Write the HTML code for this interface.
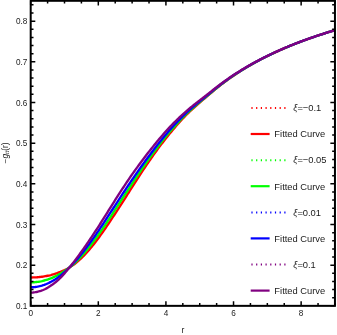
<!DOCTYPE html>
<html><head><meta charset="utf-8"><title>plot</title>
<style>
html,body{margin:0;padding:0;background:#fff;}
svg{display:block;}
text{font-family:"Liberation Sans",sans-serif;fill:#1a1a1a;}
.tl{font-size:8.20px;}
.lg{font-size:9.35px;}
</style></head>
<body>
<svg width="337" height="335" viewBox="0 0 337 335">
<rect x="0" y="0" width="337" height="335" fill="#ffffff"/>
<defs><clipPath id="cp"><rect x="30.7" y="0.8" width="304.25" height="305.05"/></clipPath></defs>
<g clip-path="url(#cp)" fill="none" stroke-linejoin="round" stroke-linecap="butt">
<polyline points="30.70,277.46 31.83,277.46 32.95,277.44 34.08,277.42 35.21,277.38 36.33,277.32 37.46,277.25 38.59,277.16 39.71,277.04 40.84,276.90 41.97,276.73 43.10,276.54 44.22,276.36 45.35,276.17 46.48,275.98 47.60,275.77 48.73,275.55 49.86,275.30 50.98,275.02 52.11,274.71 53.24,274.38 54.36,274.03 55.49,273.66 56.62,273.27 57.74,272.86 58.87,272.42 60.00,271.98 61.12,271.53 62.25,271.07 63.38,270.60 64.51,270.11 65.63,269.59 66.76,269.03 67.89,268.43 69.01,267.78 70.14,267.08 71.27,266.34 72.39,265.58 73.52,264.78 74.65,263.94 75.77,263.07 76.90,262.15 78.03,261.20 79.15,260.21 80.28,259.17 81.41,258.09 82.54,256.98 83.66,255.83 84.79,254.65 85.92,253.45 87.04,252.21 88.17,250.94 89.30,249.65 90.42,248.32 91.55,246.96 92.68,245.57 93.80,244.16 94.93,242.71 96.06,241.24 97.18,239.75 98.31,238.23 99.44,236.70 100.56,235.14 101.69,233.57 102.82,231.97 103.95,230.36 105.07,228.73 106.20,227.08 107.33,225.42 108.45,223.75 109.58,222.06 110.71,220.37 111.83,218.67 112.96,216.97 114.09,215.26 115.21,213.54 116.34,211.81 117.47,210.07 118.59,208.32 119.72,206.57 120.85,204.81 121.98,203.05 123.10,201.29 124.23,199.52 125.36,197.76 126.48,196.00 127.61,194.24 128.74,192.49 129.86,190.74 130.99,188.97 132.12,187.20 133.24,185.42 134.37,183.65 135.50,181.87 136.62,180.10 137.75,178.33 138.88,176.58 140.00,174.84 141.13,173.12 142.26,171.41 143.39,169.71 144.51,168.01 145.64,166.33 146.77,164.66 147.89,163.00 149.02,161.35 150.15,159.71 151.27,158.09 152.40,156.48 153.53,154.88 154.65,153.30 155.78,151.74 156.91,150.19 158.03,148.65 159.16,147.14 160.29,145.63 161.41,144.15 162.54,142.67 163.67,141.22 164.80,139.77 165.92,138.34 167.05,136.93 168.18,135.52 169.30,134.13 170.43,132.75 171.56,131.39 172.68,130.03 173.81,128.70 174.94,127.37 176.06,126.06 177.19,124.77 178.32,123.49 179.44,122.23 180.57,120.99 181.70,119.76 182.82,118.55 183.95,117.36 185.08,116.20 186.21,115.05 187.33,113.92 188.46,112.81 189.59,111.72 190.71,110.65 191.84,109.59 192.97,108.55 194.09,107.53 195.22,106.52 196.35,105.53 197.47,104.54 198.60,103.56 199.73,102.59 200.85,101.62 201.98,100.66 203.11,99.70 204.24,98.74 205.36,97.78 206.49,96.83 207.62,95.88 208.74,94.92 209.87,93.97 211.00,93.02 212.12,92.06 213.25,91.11 214.38,90.15 215.50,89.22 216.63,88.29 217.76,87.37 218.88,86.47 220.01,85.58 221.14,84.69 222.26,83.82 223.39,82.97 224.52,82.12 225.65,81.28 226.77,80.45 227.90,79.63 229.03,78.83 230.15,78.03 231.28,77.24 232.41,76.46 233.53,75.69 234.66,74.93 235.79,74.18 236.91,73.44 238.04,72.71 239.17,71.98 240.29,71.26 241.42,70.55 242.55,69.85 243.67,69.15 244.80,68.47 245.93,67.78 247.06,67.11 248.18,66.45 249.31,65.79 250.44,65.14 251.56,64.49 252.69,63.85 253.82,63.22 254.94,62.59 256.07,61.98 257.20,61.36 258.32,60.76 259.45,60.16 260.58,59.56 261.70,58.98 262.83,58.39 263.96,57.82 265.09,57.25 266.21,56.68 267.34,56.12 268.47,55.57 269.59,55.02 270.72,54.47 271.85,53.94 272.97,53.40 274.10,52.87 275.23,52.35 276.35,51.83 277.48,51.32 278.61,50.81 279.73,50.30 280.86,49.80 281.99,49.31 283.11,48.81 284.24,48.33 285.37,47.84 286.50,47.37 287.62,46.89 288.75,46.42 289.88,45.96 291.00,45.49 292.13,45.04 293.26,44.58 294.38,44.13 295.51,43.68 296.64,43.24 297.76,42.80 298.89,42.37 300.02,41.94 301.14,41.51 302.27,41.09 303.40,40.66 304.52,40.25 305.65,39.83 306.78,39.42 307.91,39.02 309.03,38.61 310.16,38.21 311.29,37.82 312.41,37.42 313.54,37.03 314.67,36.65 315.79,36.26 316.92,35.88 318.05,35.50 319.17,35.13 320.30,34.75 321.43,34.39 322.55,34.02 323.68,33.66 324.81,33.30 325.94,32.94 327.06,32.58 328.19,32.23 329.32,31.88 330.44,31.54 331.57,31.19 332.70,30.85 333.82,30.51 334.95,30.18" stroke="#ff0000" stroke-width="2.35"/>
<polyline points="30.70,282.38 31.83,282.35 32.95,282.31 34.08,282.24 35.21,282.15 36.33,282.03 37.46,281.89 38.59,281.73 39.71,281.54 40.84,281.32 41.97,281.07 43.10,280.79 44.22,280.50 45.35,280.19 46.48,279.86 47.60,279.51 48.73,279.13 49.86,278.73 50.98,278.29 52.11,277.83 53.24,277.34 54.36,276.83 55.49,276.29 56.62,275.72 57.74,275.13 58.87,274.51 60.00,273.87 61.12,273.20 62.25,272.52 63.38,271.82 64.51,271.09 65.63,270.33 66.76,269.54 67.89,268.71 69.01,267.85 70.14,266.95 71.27,266.01 72.39,265.05 73.52,264.06 74.65,263.04 75.77,261.98 76.90,260.89 78.03,259.77 79.15,258.62 80.28,257.43 81.41,256.21 82.54,254.97 83.66,253.69 84.79,252.39 85.92,251.07 87.04,249.72 88.17,248.34 89.30,246.94 90.42,245.51 91.55,244.06 92.68,242.59 93.80,241.09 94.93,239.57 96.06,238.03 97.18,236.47 98.31,234.89 99.44,233.30 100.56,231.68 101.69,230.05 102.82,228.40 103.95,226.74 105.07,225.07 106.20,223.39 107.33,221.69 108.45,219.99 109.58,218.28 110.71,216.57 111.83,214.85 112.96,213.12 114.09,211.39 115.21,209.66 116.34,207.92 117.47,206.18 118.59,204.44 119.72,202.69 120.85,200.95 121.98,199.20 123.10,197.46 124.23,195.72 125.36,193.98 126.48,192.25 127.61,190.52 128.74,188.80 129.86,187.08 130.99,185.36 132.12,183.64 133.24,181.92 134.37,180.20 135.50,178.49 136.62,176.79 137.75,175.09 138.88,173.40 140.00,171.73 141.13,170.06 142.26,168.41 143.39,166.77 144.51,165.14 145.64,163.51 146.77,161.90 147.89,160.30 149.02,158.71 150.15,157.14 151.27,155.57 152.40,154.02 153.53,152.48 154.65,150.95 155.78,149.43 156.91,147.93 158.03,146.44 159.16,144.97 160.29,143.51 161.41,142.07 162.54,140.64 163.67,139.23 164.80,137.83 165.92,136.45 167.05,135.08 168.18,133.72 169.30,132.37 170.43,131.04 171.56,129.73 172.68,128.43 173.81,127.14 174.94,125.87 176.06,124.62 177.19,123.38 178.32,122.15 179.44,120.94 180.57,119.75 181.70,118.58 182.82,117.42 183.95,116.27 185.08,115.15 186.21,114.04 187.33,112.95 188.46,111.88 189.59,110.82 190.71,109.79 191.84,108.77 192.97,107.76 194.09,106.78 195.22,105.80 196.35,104.84 197.47,103.88 198.60,102.94 199.73,101.99 200.85,101.05 201.98,100.11 203.11,99.17 204.24,98.24 205.36,97.30 206.49,96.37 207.62,95.43 208.74,94.50 209.87,93.56 211.00,92.62 212.12,91.68 213.25,90.74 214.38,89.81 215.50,88.88 216.63,87.97 217.76,87.06 218.88,86.17 220.01,85.29 221.14,84.42 222.26,83.56 223.39,82.72 224.52,81.88 225.65,81.05 226.77,80.23 227.90,79.42 229.03,78.62 230.15,77.83 231.28,77.05 232.41,76.28 233.53,75.52 234.66,74.76 235.79,74.02 236.91,73.28 238.04,72.55 239.17,71.83 240.29,71.12 241.42,70.41 242.55,69.71 243.67,69.02 244.80,68.34 245.93,67.66 247.06,66.99 248.18,66.33 249.31,65.68 250.44,65.03 251.56,64.39 252.69,63.75 253.82,63.12 254.94,62.50 256.07,61.89 257.20,61.28 258.32,60.67 259.45,60.08 260.58,59.48 261.70,58.90 262.83,58.32 263.96,57.74 265.09,57.18 266.21,56.61 267.34,56.06 268.47,55.50 269.59,54.96 270.72,54.41 271.85,53.88 272.97,53.35 274.10,52.82 275.23,52.30 276.35,51.78 277.48,51.27 278.61,50.76 279.73,50.26 280.86,49.76 281.99,49.26 283.11,48.77 284.24,48.29 285.37,47.81 286.50,47.33 287.62,46.86 288.75,46.39 289.88,45.92 291.00,45.46 292.13,45.01 293.26,44.55 294.38,44.10 295.51,43.66 296.64,43.22 297.76,42.78 298.89,42.35 300.02,41.92 301.14,41.49 302.27,41.07 303.40,40.65 304.52,40.23 305.65,39.82 306.78,39.41 307.91,39.00 309.03,38.60 310.16,38.20 311.29,37.81 312.41,37.41 313.54,37.02 314.67,36.64 315.79,36.25 316.92,35.87 318.05,35.50 319.17,35.12 320.30,34.75 321.43,34.38 322.55,34.02 323.68,33.65 324.81,33.29 325.94,32.94 327.06,32.58 328.19,32.23 329.32,31.88 330.44,31.53 331.57,31.19 332.70,30.85 333.82,30.51 334.95,30.18" stroke="#00ff00" stroke-width="2.35"/>
<polyline points="30.70,287.29 31.83,287.27 32.95,287.22 34.08,287.12 35.21,287.00 36.33,286.84 37.46,286.65 38.59,286.43 39.71,286.18 40.84,285.90 41.97,285.59 43.10,285.24 44.22,284.86 45.35,284.44 46.48,283.98 47.60,283.49 48.73,282.97 49.86,282.41 50.98,281.83 52.11,281.21 53.24,280.56 54.36,279.88 55.49,279.17 56.62,278.42 57.74,277.64 58.87,276.82 60.00,275.97 61.12,275.08 62.25,274.15 63.38,273.19 64.51,272.19 65.63,271.16 66.76,270.11 67.89,269.02 69.01,267.92 70.14,266.79 71.27,265.64 72.39,264.45 73.52,263.24 74.65,262.00 75.77,260.74 76.90,259.45 78.03,258.14 79.15,256.80 80.28,255.45 81.41,254.07 82.54,252.67 83.66,251.25 84.79,249.81 85.92,248.35 87.04,246.86 88.17,245.36 89.30,243.84 90.42,242.29 91.55,240.73 92.68,239.16 93.80,237.57 94.93,235.96 96.06,234.34 97.18,232.70 98.31,231.04 99.44,229.37 100.56,227.69 101.69,225.99 102.82,224.28 103.95,222.56 105.07,220.84 106.20,219.12 107.33,217.41 108.45,215.68 109.58,213.96 110.71,212.23 111.83,210.49 112.96,208.75 114.09,207.01 115.21,205.28 116.34,203.54 117.47,201.80 118.59,200.08 119.72,198.35 120.85,196.63 121.98,194.92 123.10,193.21 124.23,191.50 125.36,189.81 126.48,188.11 127.61,186.43 128.74,184.75 129.86,183.08 130.99,181.42 132.12,179.76 133.24,178.11 134.37,176.47 135.50,174.84 136.62,173.22 137.75,171.60 138.88,169.99 140.00,168.39 141.13,166.80 142.26,165.22 143.39,163.65 144.51,162.09 145.64,160.54 146.77,159.00 147.89,157.47 149.02,155.96 150.15,154.45 151.27,152.95 152.40,151.47 153.53,149.98 154.65,148.50 155.78,147.04 156.91,145.59 158.03,144.15 159.16,142.73 160.29,141.32 161.41,139.92 162.54,138.54 163.67,137.17 164.80,135.82 165.92,134.48 167.05,133.16 168.18,131.85 169.30,130.55 170.43,129.27 171.56,128.01 172.68,126.76 173.81,125.53 174.94,124.32 176.06,123.12 177.19,121.93 178.32,120.76 179.44,119.61 180.57,118.47 181.70,117.35 182.82,116.23 183.95,115.14 185.08,114.06 186.21,112.99 187.33,111.94 188.46,110.91 189.59,109.89 190.71,108.89 191.84,107.91 192.97,106.95 194.09,105.99 195.22,105.05 196.35,104.12 197.47,103.20 198.60,102.28 199.73,101.37 200.85,100.46 201.98,99.55 203.11,98.63 204.24,97.72 205.36,96.80 206.49,95.89 207.62,94.97 208.74,94.05 209.87,93.13 211.00,92.21 212.12,91.29 213.25,90.36 214.38,89.44 215.50,88.53 216.63,87.63 217.76,86.74 218.88,85.87 220.01,85.00 221.14,84.14 222.26,83.29 223.39,82.46 224.52,81.63 225.65,80.81 226.77,80.00 227.90,79.20 229.03,78.41 230.15,77.63 231.28,76.86 232.41,76.09 233.53,75.34 234.66,74.59 235.79,73.85 236.91,73.12 238.04,72.39 239.17,71.68 240.29,70.97 241.42,70.27 242.55,69.57 243.67,68.89 244.80,68.21 245.93,67.54 247.06,66.87 248.18,66.21 249.31,65.56 250.44,64.92 251.56,64.28 252.69,63.65 253.82,63.02 254.94,62.41 256.07,61.79 257.20,61.19 258.32,60.59 259.45,59.99 260.58,59.40 261.70,58.82 262.83,58.24 263.96,57.67 265.09,57.10 266.21,56.54 267.34,55.99 268.47,55.44 269.59,54.89 270.72,54.35 271.85,53.82 272.97,53.29 274.10,52.76 275.23,52.24 276.35,51.73 277.48,51.21 278.61,50.71 279.73,50.21 280.86,49.71 281.99,49.22 283.11,48.73 284.24,48.24 285.37,47.77 286.50,47.29 287.62,46.82 288.75,46.35 289.88,45.89 291.00,45.43 292.13,44.97 293.26,44.52 294.38,44.08 295.51,43.63 296.64,43.19 297.76,42.76 298.89,42.32 300.02,41.89 301.14,41.47 302.27,41.05 303.40,40.63 304.52,40.22 305.65,39.80 306.78,39.40 307.91,38.99 309.03,38.59 310.16,38.19 311.29,37.80 312.41,37.40 313.54,37.02 314.67,36.63 315.79,36.25 316.92,35.87 318.05,35.49 319.17,35.12 320.30,34.75 321.43,34.38 322.55,34.01 323.68,33.65 324.81,33.29 325.94,32.93 327.06,32.58 328.19,32.23 329.32,31.88 330.44,31.53 331.57,31.19 332.70,30.85 333.82,30.51 334.95,30.18" stroke="#0000ff" stroke-width="2.35"/>
<polyline points="30.70,292.59 31.83,292.57 32.95,292.49 34.08,292.37 35.21,292.21 36.33,292.01 37.46,291.76 38.59,291.48 39.71,291.16 40.84,290.81 41.97,290.42 43.10,290.00 44.22,289.52 45.35,288.98 46.48,288.38 47.60,287.74 48.73,287.06 49.86,286.34 50.98,285.59 52.11,284.81 53.24,283.99 54.36,283.13 55.49,282.23 56.62,281.29 57.74,280.31 58.87,279.28 60.00,278.20 61.12,277.07 62.25,275.88 63.38,274.64 64.51,273.36 65.63,272.05 66.76,270.71 67.89,269.36 69.01,268.00 70.14,266.63 71.27,265.23 72.39,263.81 73.52,262.37 74.65,260.90 75.77,259.41 76.90,257.90 78.03,256.38 79.15,254.85 80.28,253.30 81.41,251.75 82.54,250.18 83.66,248.60 84.79,246.99 85.92,245.38 87.04,243.74 88.17,242.10 89.30,240.43 90.42,238.76 91.55,237.08 92.68,235.38 93.80,233.68 94.93,231.97 96.06,230.25 97.18,228.52 98.31,226.78 99.44,225.02 100.56,223.25 101.69,221.47 102.82,219.69 103.95,217.89 105.07,216.10 106.20,214.31 107.33,212.52 108.45,210.73 109.58,208.94 110.71,207.15 111.83,205.35 112.96,203.55 114.09,201.76 115.21,199.97 116.34,198.19 117.47,196.42 118.59,194.66 119.72,192.91 120.85,191.18 121.98,189.45 123.10,187.74 124.23,186.04 125.36,184.34 126.48,182.66 127.61,180.98 128.74,179.31 129.86,177.66 130.99,176.03 132.12,174.42 133.24,172.83 134.37,171.25 135.50,169.68 136.62,168.13 137.75,166.59 138.88,165.05 140.00,163.52 141.13,161.99 142.26,160.48 143.39,158.97 144.51,157.48 145.64,156.00 146.77,154.54 147.89,153.08 149.02,151.64 150.15,150.20 151.27,148.78 152.40,147.37 153.53,145.97 154.65,144.57 155.78,143.19 156.91,141.83 158.03,140.47 159.16,139.12 160.29,137.79 161.41,136.47 162.54,135.16 163.67,133.86 164.80,132.59 165.92,131.32 167.05,130.07 168.18,128.84 169.30,127.62 170.43,126.43 171.56,125.25 172.68,124.09 173.81,122.94 174.94,121.82 176.06,120.71 177.19,119.61 178.32,118.53 179.44,117.46 180.57,116.41 181.70,115.37 182.82,114.34 183.95,113.32 185.08,112.31 186.21,111.31 187.33,110.32 188.46,109.35 189.59,108.40 190.71,107.46 191.84,106.54 192.97,105.63 194.09,104.73 195.22,103.85 196.35,102.97 197.47,102.10 198.60,101.24 199.73,100.37 200.85,99.51 201.98,98.63 203.11,97.76 204.24,96.88 205.36,96.00 206.49,95.12 207.62,94.23 208.74,93.34 209.87,92.45 211.00,91.56 212.12,90.66 213.25,89.76 214.38,88.86 215.50,87.97 216.63,87.10 217.76,86.23 218.88,85.37 220.01,84.53 221.14,83.69 222.26,82.86 223.39,82.04 224.52,81.23 225.65,80.43 226.77,79.64 227.90,78.85 229.03,78.07 230.15,77.30 231.28,76.54 232.41,75.79 233.53,75.04 234.66,74.30 235.79,73.57 236.91,72.85 238.04,72.14 239.17,71.43 240.29,70.73 241.42,70.03 242.55,69.35 243.67,68.67 244.80,68.00 245.93,67.33 247.06,66.68 248.18,66.03 249.31,65.38 250.44,64.74 251.56,64.11 252.69,63.48 253.82,62.87 254.94,62.25 256.07,61.64 257.20,61.04 258.32,60.45 259.45,59.86 260.58,59.27 261.70,58.69 262.83,58.12 263.96,57.55 265.09,56.99 266.21,56.43 267.34,55.88 268.47,55.33 269.59,54.79 270.72,54.25 271.85,53.72 272.97,53.19 274.10,52.67 275.23,52.15 276.35,51.64 277.48,51.13 278.61,50.63 279.73,50.13 280.86,49.63 281.99,49.14 283.11,48.66 284.24,48.18 285.37,47.70 286.50,47.23 287.62,46.76 288.75,46.29 289.88,45.83 291.00,45.38 292.13,44.92 293.26,44.48 294.38,44.03 295.51,43.59 296.64,43.15 297.76,42.72 298.89,42.29 300.02,41.86 301.14,41.44 302.27,41.02 303.40,40.60 304.52,40.19 305.65,39.78 306.78,39.37 307.91,38.97 309.03,38.57 310.16,38.17 311.29,37.78 312.41,37.39 313.54,37.00 314.67,36.62 315.79,36.24 316.92,35.86 318.05,35.48 319.17,35.11 320.30,34.74 321.43,34.37 322.55,34.01 323.68,33.65 324.81,33.29 325.94,32.93 327.06,32.58 328.19,32.23 329.32,31.88 330.44,31.53 331.57,31.19 332.70,30.85 333.82,30.51 334.95,30.18" stroke="#800080" stroke-width="2.35"/>
</g>
<path d="M30.70 305.85h4.6 M334.95 305.85h-4.6 M30.70 297.72h2.8 M334.95 297.72h-2.8 M30.70 289.58h2.8 M334.95 289.58h-2.8 M30.70 281.45h2.8 M334.95 281.45h-2.8 M30.70 273.31h2.8 M334.95 273.31h-2.8 M30.70 265.18h4.6 M334.95 265.18h-4.6 M30.70 257.04h2.8 M334.95 257.04h-2.8 M30.70 248.91h2.8 M334.95 248.91h-2.8 M30.70 240.77h2.8 M334.95 240.77h-2.8 M30.70 232.64h2.8 M334.95 232.64h-2.8 M30.70 224.50h4.6 M334.95 224.50h-4.6 M30.70 216.37h2.8 M334.95 216.37h-2.8 M30.70 208.23h2.8 M334.95 208.23h-2.8 M30.70 200.10h2.8 M334.95 200.10h-2.8 M30.70 191.96h2.8 M334.95 191.96h-2.8 M30.70 183.83h4.6 M334.95 183.83h-4.6 M30.70 175.70h2.8 M334.95 175.70h-2.8 M30.70 167.56h2.8 M334.95 167.56h-2.8 M30.70 159.43h2.8 M334.95 159.43h-2.8 M30.70 151.29h2.8 M334.95 151.29h-2.8 M30.70 143.16h4.6 M334.95 143.16h-4.6 M30.70 135.02h2.8 M334.95 135.02h-2.8 M30.70 126.89h2.8 M334.95 126.89h-2.8 M30.70 118.75h2.8 M334.95 118.75h-2.8 M30.70 110.62h2.8 M334.95 110.62h-2.8 M30.70 102.48h4.6 M334.95 102.48h-4.6 M30.70 94.35h2.8 M334.95 94.35h-2.8 M30.70 86.21h2.8 M334.95 86.21h-2.8 M30.70 78.08h2.8 M334.95 78.08h-2.8 M30.70 69.94h2.8 M334.95 69.94h-2.8 M30.70 61.81h4.6 M334.95 61.81h-4.6 M30.70 53.68h2.8 M334.95 53.68h-2.8 M30.70 45.54h2.8 M334.95 45.54h-2.8 M30.70 37.41h2.8 M334.95 37.41h-2.8 M30.70 29.27h2.8 M334.95 29.27h-2.8 M30.70 21.14h4.6 M334.95 21.14h-4.6 M30.70 13.00h2.8 M334.95 13.00h-2.8 M30.70 4.87h2.8 M334.95 4.87h-2.8 M30.70 305.85v-4.6 M30.70 0.80v4.6 M47.60 305.85v-2.8 M47.60 0.80v2.8 M64.51 305.85v-2.8 M64.51 0.80v2.8 M81.41 305.85v-2.8 M81.41 0.80v2.8 M98.31 305.85v-4.6 M98.31 0.80v4.6 M115.21 305.85v-2.8 M115.21 0.80v2.8 M132.12 305.85v-2.8 M132.12 0.80v2.8 M149.02 305.85v-2.8 M149.02 0.80v2.8 M165.92 305.85v-4.6 M165.92 0.80v4.6 M182.82 305.85v-2.8 M182.82 0.80v2.8 M199.73 305.85v-2.8 M199.73 0.80v2.8 M216.63 305.85v-2.8 M216.63 0.80v2.8 M233.53 305.85v-4.6 M233.53 0.80v4.6 M250.44 305.85v-2.8 M250.44 0.80v2.8 M267.34 305.85v-2.8 M267.34 0.80v2.8 M284.24 305.85v-2.8 M284.24 0.80v2.8 M301.14 305.85v-4.6 M301.14 0.80v4.6 M318.05 305.85v-2.8 M318.05 0.80v2.8 M334.95 305.85v-2.8 M334.95 0.80v2.8" stroke="#000" stroke-width="1.5" fill="none"/>
<rect x="30.7" y="0.8" width="304.25" height="305.05" fill="none" stroke="#000" stroke-width="2"/>
<g style="filter:grayscale(1);will-change:opacity">
<text class="tl" x="27.4" y="309.05" text-anchor="end">0.1</text>
<text class="tl" x="27.4" y="268.38" text-anchor="end">0.2</text>
<text class="tl" x="27.4" y="227.70" text-anchor="end">0.3</text>
<text class="tl" x="27.4" y="187.03" text-anchor="end">0.4</text>
<text class="tl" x="27.4" y="146.36" text-anchor="end">0.5</text>
<text class="tl" x="27.4" y="105.68" text-anchor="end">0.6</text>
<text class="tl" x="27.4" y="65.01" text-anchor="end">0.7</text>
<text class="tl" x="27.4" y="24.34" text-anchor="end">0.8</text>
<text class="tl" x="30.70" y="316.4" text-anchor="middle">0</text>
<text class="tl" x="98.31" y="316.4" text-anchor="middle">2</text>
<text class="tl" x="165.92" y="316.4" text-anchor="middle">4</text>
<text class="tl" x="233.53" y="316.4" text-anchor="middle">6</text>
<text class="tl" x="301.14" y="316.4" text-anchor="middle">8</text>
<text class="tl" x="182.82" y="332.6" text-anchor="middle" style="font-size:8.6px">r</text>
<text class="tl" transform="translate(7.6 152.93) rotate(-90)" text-anchor="middle" style="font-size:8.4px">−<tspan font-style="italic">g</tspan><tspan font-style="italic" font-size="5.6" dy="1.6">tt</tspan><tspan dy="-1.6">(r)</tspan></text>
<text class="lg" x="293.2" y="111.10"><tspan font-style="italic">ξ</tspan>=−0.1</text>
<text class="lg" x="274.35" y="137.30">Fitted Curve</text>
<text class="lg" x="293.2" y="163.30"><tspan font-style="italic">ξ</tspan>=−0.05</text>
<text class="lg" x="274.35" y="189.50">Fitted Curve</text>
<text class="lg" x="293.2" y="215.50"><tspan font-style="italic">ξ</tspan>=0.01</text>
<text class="lg" x="274.35" y="241.70">Fitted Curve</text>
<text class="lg" x="293.2" y="267.70"><tspan font-style="italic">ξ</tspan>=0.1</text>
<text class="lg" x="274.35" y="293.90">Fitted Curve</text>
</g>
<line x1="251.4" y1="108.00" x2="286" y2="108.00" stroke="#ff0000" stroke-width="2" stroke-dasharray="1.2 3.5"/>
<line x1="250.7" y1="134.00" x2="269.6" y2="134.00" stroke="#ff0000" stroke-width="2.2"/>
<line x1="251.4" y1="160.20" x2="286" y2="160.20" stroke="#00ff00" stroke-width="2" stroke-dasharray="1.2 3.5"/>
<line x1="250.7" y1="186.20" x2="269.6" y2="186.20" stroke="#00ff00" stroke-width="2.2"/>
<line x1="251.4" y1="212.40" x2="286" y2="212.40" stroke="#0000ff" stroke-width="2" stroke-dasharray="1.2 3.5"/>
<line x1="250.7" y1="238.40" x2="269.6" y2="238.40" stroke="#0000ff" stroke-width="2.2"/>
<line x1="251.4" y1="264.60" x2="286" y2="264.60" stroke="#800080" stroke-width="2" stroke-dasharray="1.2 3.5"/>
<line x1="250.7" y1="290.60" x2="269.6" y2="290.60" stroke="#800080" stroke-width="2.2"/>
</svg>
</body></html>
